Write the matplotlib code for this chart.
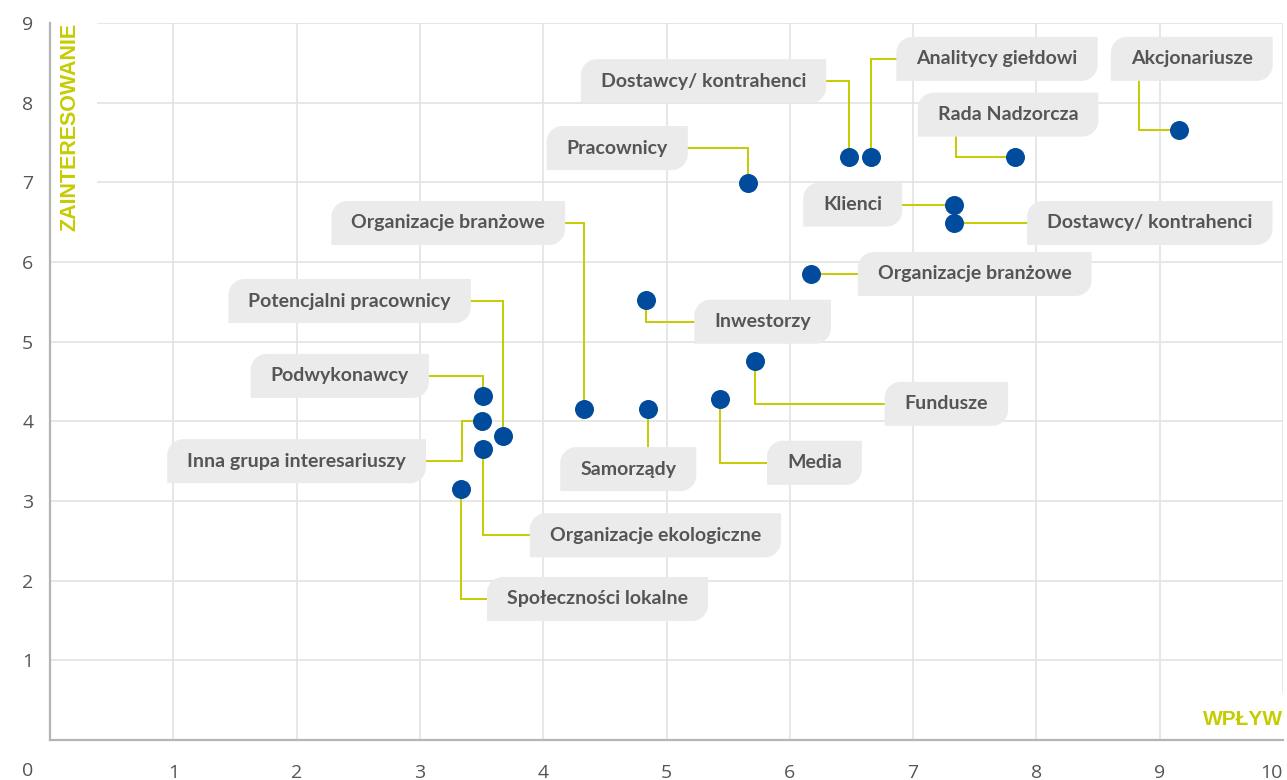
import matplotlib.pyplot as plt
from matplotlib.path import Path
from matplotlib.patches import PathPatch
from matplotlib.transforms import IdentityTransform

# stakeholder map: wpływ (x) vs zainteresowanie (y)
names = ['Akcjonariusze', 'Rada Nadzorcza', 'Analitycy giełdowi', 'Dostawcy/ kontrahenci',
         'Pracownicy', 'Klienci', 'Dostawcy/ kontrahenci', 'Organizacje branżowe',
         'Organizacje branżowe', 'Inwestorzy', 'Potencjalni pracownicy', 'Fundusze',
         'Media', 'Samorządy', 'Podwykonawcy', 'Inna grupa interesariuszy',
         'Organizacje ekologiczne', 'Społeczności lokalne']
wplyw = [9.16, 7.83, 6.66, 6.48, 5.66, 7.33, 7.33, 6.17, 4.33, 4.83, 3.67, 5.72,
         5.43, 4.85, 3.51, 3.50, 3.51, 3.33]
zainteresowanie = [7.66, 7.32, 7.32, 7.32, 6.99, 6.72, 6.49, 5.85, 4.15, 5.52, 3.82, 4.76,
                   4.28, 4.15, 4.32, 4.00, 3.65, 3.15]

# label layout (text centre), connector route and elbow x
label_x = [9.26, 7.77, 7.68, 5.30, 4.60, 6.51, 8.92, 7.50, 3.23, 5.78, 2.43, 7.27,
           6.20, 4.69, 2.35, 2.00, 4.91, 4.44]
label_y = [8.55, 7.85, 8.55, 8.27, 7.43, 6.72, 6.49, 5.85, 6.49, 5.25, 5.51, 4.22,
           3.48, 3.40, 4.57, 3.50, 2.57, 1.77]
routes = ['hb', 'hb', 'hv', 'hv', 'hv', 'hv', 'hv', 'hv', 'hv', 'vh', 'hv', 'vh',
          'vh', 'v', 'hv', 'hvh', 'vh', 'vh']
elbow = [8.83, 7.35, None, None, None, None, None, None, None, None, None, None,
         None, None, None, 3.34, None, None]

GREEN = '#c5cc00'
BLUE = '#004b9b'
GREY_BOX = '#ebebeb'
GREY_TXT = '#555555'

fig = plt.figure(figsize=(12.87, 7.80), dpi=100)
ax = fig.add_axes([50/1287, 40/780, 1233/1287, 717/780])
ax.set_xlim(0, 10)
ax.set_ylim(0, 9)
ax.set_axisbelow(True)
ax.grid(color='#e3e3e3', lw=1.2)
for s in ['top', 'right']:
    ax.spines[s].set_visible(False)
for s in ['left', 'bottom']:
    ax.spines[s].set_color('#b5b5b5')
    ax.spines[s].set_linewidth(1.6)

ax.set_xticks(range(1, 11))
ax.set_yticks(range(1, 10))
ax.tick_params(length=0, labelsize=14, labelcolor='#555555')
ax.tick_params(axis='x', pad=17)
ax.tick_params(axis='y', pad=12)
for t in ax.get_xticklabels() + ax.get_yticklabels():
    t.set_fontfamily('Open Sans')
ax.get_xticklabels()[-1].set_horizontalalignment('right')
ax.annotate('0', xy=(0, 0), xytext=(-22, -31), textcoords='offset pixels',
            ha='center', va='center', fontsize=14, color='#555555',
            fontfamily='Open Sans', annotation_clip=False)

ax.text(0.163, 9.0, 'ZAINTERESOWANIE', rotation=90, ha='center', va='top',
        fontsize=15.5, fontweight='bold', color=GREEN, fontfamily='Liberation Sans',
        zorder=1, bbox=dict(fc='white', ec='none', pad=12))
ax.text(10, 0.26, 'WPŁYW', ha='right', va='center', fontsize=15, fontweight='bold',
        color=GREEN, fontfamily='Liberation Sans', zorder=1,
        bbox=dict(fc='white', ec='none', pad=12))

ax.scatter(wplyw, zainteresowanie, s=160, color=BLUE, zorder=6, clip_on=False)

texts = []
for n, tx, ty in zip(names, label_x, label_y):
    texts.append(ax.text(tx, ty, n, ha='center', va='center', fontsize=14,
                         fontweight='bold', fontfamily='Lato', color=GREY_TXT,
                         zorder=5))

fig.canvas.draw()
r = fig.canvas.get_renderer()
inv = ax.transData.inverted()


def box_path(x0, y0, x1, y1, rad):
    k = 0.5523 * rad
    verts = [(x0, y0), (x0, y1 - rad),
             (x0, y1 - rad + k), (x0 + rad - k, y1), (x0 + rad, y1),
             (x1, y1), (x1, y0 + rad),
             (x1, y0 + rad - k), (x1 - rad + k, y0), (x1 - rad, y0),
             (x0, y0)]
    codes = [Path.MOVETO, Path.LINETO,
             Path.CURVE4, Path.CURVE4, Path.CURVE4,
             Path.LINETO, Path.LINETO,
             Path.CURVE4, Path.CURVE4, Path.CURVE4,
             Path.CLOSEPOLY]
    return Path(verts, codes)


for i, t in enumerate(texts):
    bb = t.get_window_extent(r)
    yc = ax.transData.transform((label_x[i], label_y[i]))[1]
    x0, x1 = bb.x0 - 20, bb.x1 + 20
    y0, y1 = yc - 22, yc + 22
    ax.add_patch(PathPatch(box_path(x0, y0, x1, y1, 16), fc=GREY_BOX, ec='none',
                           transform=IdentityTransform(), zorder=4, clip_on=False))
    (bx0, by0), (bx1, by1) = inv.transform([(x0, y0), (x1, y1)])
    dx, dy = wplyw[i], zainteresowanie[i]
    tx, ty = label_x[i], label_y[i]
    edge = bx1 if dx > tx else bx0
    mode = routes[i]
    if mode == 'hv':
        pts = [(edge, ty), (dx, ty), (dx, dy)]
    elif mode == 'vh':
        edge = bx0 if dx < tx else bx1
        pts = [(dx, dy), (dx, ty), (edge, ty)]
    elif mode == 'v':
        pts = [(dx, dy), (dx, by1 if dy > ty else by0)]
    elif mode == 'hb':
        pts = [(dx, dy), (elbow[i], dy), (elbow[i], by0)]
    else:  # hvh
        pts = [(edge, ty), (elbow[i], ty), (elbow[i], dy), (dx, dy)]
    xs, ys = zip(*pts)
    ax.plot(xs, ys, color=GREEN, lw=1.4, zorder=3, solid_joinstyle='miter',
            clip_on=False)

fig.savefig('out.png', dpi=100)
